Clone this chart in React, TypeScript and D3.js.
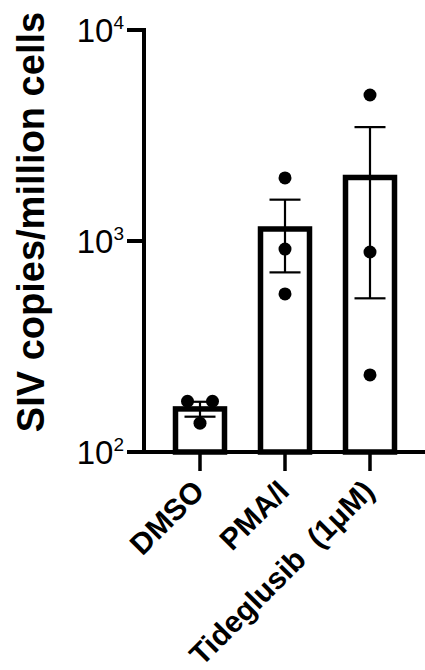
import React from 'react';
import * as d3 from 'd3';

// values (SIV copies per million cells)
const categories = ['DMSO', 'PMA/I', 'Tideglusib\u00A0 (1μM)'];
const means = [160, 1140, 2000];
const sems = [13, 430, 1465];
const replicates = [
  [174, 137, 174],
  [1990, 916, 561],
  [4920, 887, 232],
];
const yTicks = [100, 1000, 10000];

const W = 425;
const H = 670;
const axisX = 144;
const dotR = 6.5;

const App = () => {
  const y = d3.scaleLog().domain([100, 10000]).range([452, 30]);
  const x = d3.scalePoint<string>().domain(categories).range([200, 370]);
  const barW = 49;
  const baseY = y(100);

  // spread points that sit on top of each other, like the prism scatter
  const spread = (vals: number[]) => {
    const ys = vals.map(v => y(v));
    const offs = vals.map(() => 0);
    const used = vals.map(() => false);
    ys.forEach((yy, i) => {
      if (used[i]) return;
      const group = ys.map((o, j) => j).filter(j => !used[j] && Math.abs(ys[j] - yy) < dotR * 2);
      group.forEach((j, k) => {
        used[j] = true;
        offs[j] = (k - (group.length - 1) / 2) * 25;
      });
    });
    return offs;
  };

  return (
    <svg width={W} height={H} style={{ position: 'absolute', left: 0, top: 0, background: '#fff' }}
      fontFamily="'Liberation Sans', Arial, sans-serif">
      {/* y axis title */}
      <text transform={`translate(44,222) rotate(-90)`} textAnchor="middle"
        fontSize={38} fontWeight="bold">SIV copies/million cells</text>

      {/* y axis */}
      <line x1={axisX} x2={axisX} y1={y(10000) - 2} y2={baseY + 2} stroke="#000" strokeWidth={4} />
      {yTicks.map((t, i) => (
        <g key={t}>
          <line x1={127} x2={axisX} y1={y(t)} y2={y(t)} stroke="#000" strokeWidth={4} />
          <text x={124} y={y(t) + 11.5} textAnchor="end" fontSize={33}>
            10<tspan fontSize={19} dy={-13}>{Math.log10(t)}</tspan>
          </text>
        </g>
      ))}

      {/* x axis */}
      <line x1={127} x2={W} y1={baseY} y2={baseY} stroke="#000" strokeWidth={4} />

      {categories.map((c, i) => {
        const cx = x(c) as number;
        const top = y(means[i]);
        const offs = spread(replicates[i]);
        return (
          <g key={c}>
            <rect x={cx - barW / 2} y={top} width={barW} height={baseY - top}
              fill="#fff" stroke="#000" strokeWidth={5.5} />
            <line x1={cx} x2={cx} y1={baseY} y2={baseY + 19} stroke="#000" strokeWidth={3.5} />
            <g stroke="#000" strokeWidth={2.2}>
              <line x1={cx} x2={cx} y1={y(means[i] + sems[i])} y2={y(means[i] - sems[i])} />
              <line x1={cx - 15.5} x2={cx + 15.5} y1={y(means[i] + sems[i])} y2={y(means[i] + sems[i])} />
              <line x1={cx - 15.5} x2={cx + 15.5} y1={y(means[i] - sems[i])} y2={y(means[i] - sems[i])} />
            </g>
            {replicates[i].map((v, j) => (
              <circle key={j} cx={cx + offs[j]} cy={y(v)} r={dotR} fill="#000" />
            ))}
            <text transform={`translate(${cx + 6},493) rotate(-45)`} textAnchor="end"
              fontSize={30} fontWeight="bold">{c}</text>
          </g>
        );
      })}
    </svg>
  );
};

export default App;
